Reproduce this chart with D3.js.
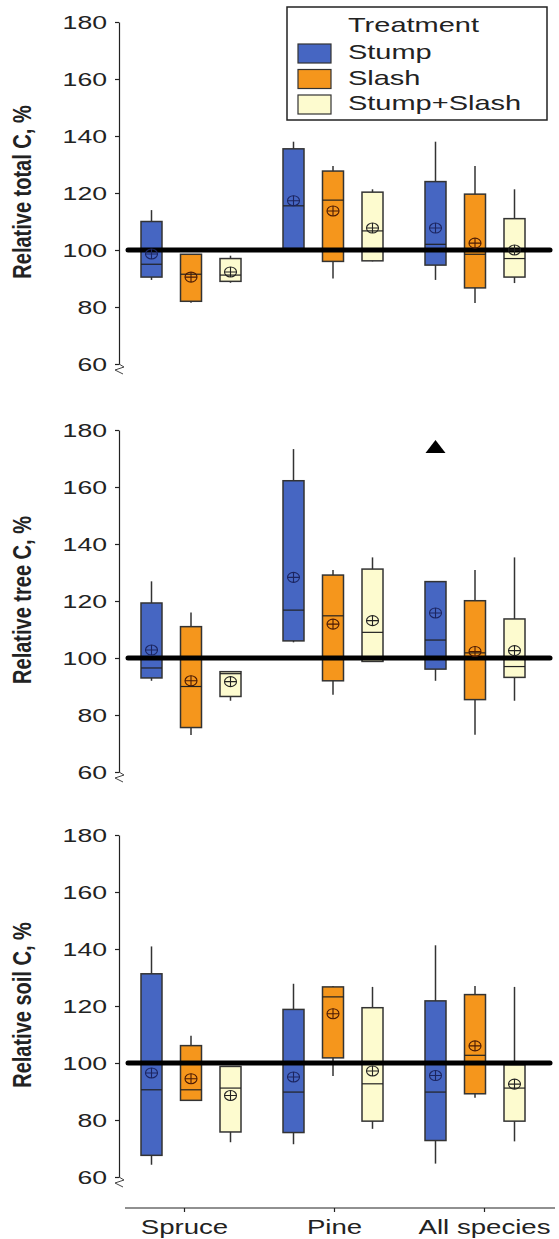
<!DOCTYPE html>
<html>
<head>
<meta charset="utf-8">
<script src="https://cdn.jsdelivr.net/npm/d3@7"></script>
<style>
  body { margin: 0; background: #fff; }
  text { font-family: "Liberation Sans", Arial, sans-serif; fill: #222; }
</style>
</head>
<body>
<div id="chart"></div>
<script>
(function() {
  var width = 559,
      height = 1239;

  // categories
  var groups = ["Spruce", "Pine", "All species"];
  var treatments = ["Stump", "Slash", "Stump+Slash"];
  var yTicks = [60, 80, 100, 120, 140, 160, 180];

  // one row per box, groups x treatments:
  // [whisker low, Q1, median, Q3, whisker high, mean]
  var totalC = [
    [89.5, 90.5, 95, 110, 114, 98.6],
    [81.5, 82, 91.5, 98.5, 98.5, 90.5],
    [88.5, 89, 91.2, 97, 98, 92.3],
    [100.5, 100.5, 115.5, 135.5, 138, 117.3],
    [90, 96, 117.5, 127.7, 129.5, 113.7],
    [96, 96.2, 106.7, 120.3, 121.3, 107.7],
    [89.5, 94.7, 102, 124, 138, 107.7],
    [81.4, 86.7, 98.5, 119.6, 129.5, 102.4],
    [88.4, 90.5, 97, 111, 121.3, 100]
  ];
  var treeC = [
    [92, 93, 96.5, 119.3, 126.9, 102.8],
    [73, 75.6, 90, 111, 116, 92],
    [85, 86.5, 94.5, 95.2, 95.2, 91.7],
    [105.5, 106, 116.8, 162.2, 173.3, 128.3],
    [87.1, 92, 114.8, 129.1, 130.9, 111.9],
    [98.8, 98.8, 109, 131.2, 135.3, 113.1],
    [92, 96.1, 106.3, 126.8, 126.8, 115.8],
    [73.1, 85.4, 101.8, 120.1, 130.9, 102.3],
    [85, 93.2, 97, 113.7, 135.3, 102.6]
  ];
  var soilC = [
    [64.3, 67.6, 90.6, 131.3, 140.9, 96.5],
    [86.9, 86.9, 90.6, 106.1, 109.6, 94.5],
    [72.2, 75.8, 91.2, 98.8, 98.8, 88.6],
    [71.5, 75.6, 89.8, 118.8, 127.8, 95.1],
    [95.4, 101.8, 123.2, 126.7, 127, 117.3],
    [76.9, 79.6, 92.7, 119.4, 126.7, 97.2],
    [64.7, 72.8, 89.8, 121.8, 141.3, 95.6],
    [87.8, 89.2, 102.7, 124, 127, 106],
    [72.5, 79.6, 91.2, 99.4, 126.7, 92.6]
  ];
  // extreme values drawn as triangles: [group, treatment, value]
  var treeOutliers = [["All species", "Stump", 174]];

  var fills = ["#4666c2", "#f5961c", "#fdfbcf"];
  var meanColors = ["#1c2560", "#4a1a05", "#222"];
  var stretch = 1.38; // glyphs in the picture are wider than plain Arial

  var panels = [
    {label: "Relative total C, %", data: totalC, outliers: [], top: 22},
    {label: "Relative tree C, %", data: treeC, outliers: treeOutliers, top: 430},
    {label: "Relative soil C, %", data: soilC, outliers: [], top: 835}
  ];
  var panelHeight = 342;

  var svg = d3.select("#chart")
      .append("svg")
      .attr("width", width)
      .attr("height", height);

  // x: groups, then treatments inside each group
  var x = d3.scaleBand().domain(groups).range([120, 546]);
  var xInner = d3.scalePoint().domain(treatments).range([31.5, 110.5]);
  var boxW = 21;

  var drawPanel = function(p) {
    var y = d3.scaleLinear().domain([60, 180]).range([p.top + panelHeight, p.top]);
    var g = svg.append("g");

    // y axis
    var ax = g.append("g")
      .attr("transform", "translate(119,0)")
      .call(d3.axisLeft(y).tickValues(yTicks).tickSize(4).tickSizeOuter(0));
    ax.select(".domain").attr("stroke", "#222").attr("stroke-width", 1.2);
    ax.selectAll(".tick line").attr("stroke", "#222").attr("stroke-width", 1.2);
    ax.selectAll(".tick text")
      .attr("x", null)
      .attr("transform", "translate(-12,0) scale(" + (stretch + 0.02) + ",1)")
      .style("font-size", "19px")
      .style("font-family", "'Liberation Sans', Arial, sans-serif")
      .attr("fill", "#222");

    // axis break mark
    var yb = y(60);
    g.append("path")
      .attr("d", "M119," + yb + " l5,3 l-9,3 l8,4")
      .attr("fill", "none")
      .attr("stroke", "#444")
      .attr("stroke-width", 1);

    // y label
    g.append("text")
      .attr("transform", "translate(31," + (p.top + 170) + ") scale(1.28,1) rotate(-90)")
      .attr("text-anchor", "middle")
      .style("font-size", "20px")
      .style("font-weight", "bold")
      .attr("fill", "#111")
      .text(p.label);

    // boxes
    var rows = [];
    groups.forEach(function(gr, gi) {
      treatments.forEach(function(tr, ti) {
        var r = p.data[gi * treatments.length + ti];
        rows.push({group: gr, t: tr, ti: ti, lo: r[0], q1: r[1], med: r[2], q3: r[3], hi: r[4], mean: r[5]});
      });
    });
    var cx = function(d) { return x(d.group) + xInner(d.t); };

    var box = g.selectAll(".box").data(rows).enter().append("g").attr("class", "box");

    box.append("line")
      .attr("x1", cx).attr("x2", cx)
      .attr("y1", function(d) { return y(d.hi); })
      .attr("y2", function(d) { return y(d.lo); })
      .attr("stroke", "#333").attr("stroke-width", 1.5);

    box.append("rect")
      .attr("x", function(d) { return cx(d) - boxW / 2; })
      .attr("y", function(d) { return y(d.q3); })
      .attr("width", boxW)
      .attr("height", function(d) { return y(d.q1) - y(d.q3); })
      .attr("fill", function(d) { return fills[d.ti]; })
      .attr("stroke", "#333").attr("stroke-width", 1.5);

    box.append("line")
      .attr("x1", function(d) { return cx(d) - boxW / 2; })
      .attr("x2", function(d) { return cx(d) + boxW / 2; })
      .attr("y1", function(d) { return y(d.med); })
      .attr("y2", function(d) { return y(d.med); })
      .attr("stroke", "#222").attr("stroke-width", 1.2);

    // reference line at 100 (drawn over the boxes, under the means)
    g.append("line")
      .attr("x1", 128).attr("x2", 550)
      .attr("y1", y(100)).attr("y2", y(100))
      .attr("stroke", "#000").attr("stroke-width", 5)
      .attr("stroke-linecap", "round");

    // mean symbol: circle with a cross
    var m = g.selectAll(".mean").data(rows).enter().append("g")
      .attr("class", "mean")
      .attr("transform", function(d) { return "translate(" + cx(d) + "," + y(d.mean) + ")"; })
      .attr("stroke", function(d) { return meanColors[d.ti]; })
      .attr("stroke-width", 1.1)
      .attr("fill", "none");
    m.append("ellipse").attr("rx", 6).attr("ry", 5);
    m.append("path").attr("d", "M-6,0H6M0,-5V5");

    // outliers
    g.selectAll(".outlier").data(p.outliers).enter().append("path")
      .attr("class", "outlier")
      .attr("d", function(d) {
        var px = x(d[0]) + xInner(d[1]), py = y(d[2]);
        return "M" + (px - 10) + "," + (py + 6) + "L" + px + "," + (py - 7) + "L" + (px + 10) + "," + (py + 6) + "Z";
      })
      .attr("fill", "#000");
  };

  panels.forEach(drawPanel);

  // x axis at the bottom
  var xLab = d3.scalePoint().domain(groups).range([184, 484]);
  svg.append("line")
    .attr("x1", 125).attr("x2", 555)
    .attr("y1", 1208).attr("y2", 1208)
    .attr("stroke", "#222").attr("stroke-width", 1.2);
  var xa = svg.append("g")
    .attr("transform", "translate(0,1208)")
    .call(d3.axisBottom(xLab).tickSize(4).tickSizeOuter(0));
  xa.select(".domain").remove();
  xa.selectAll(".tick line").attr("stroke", "#222").attr("stroke-width", 1.2);
  xa.selectAll(".tick text")
    .attr("y", null).attr("dy", null)
    .attr("transform", "translate(0,26) scale(" + stretch + ",1)")
    .style("font-size", "20px")
    .style("font-family", "'Liberation Sans', Arial, sans-serif")
    .attr("fill", "#222");

  // legend
  var legend = svg.append("g");
  legend.append("rect")
    .attr("x", 287).attr("y", 7).attr("width", 260).attr("height", 113)
    .attr("fill", "#fff").attr("stroke", "#222").attr("stroke-width", 1.5);
  legend.append("text")
    .attr("transform", "translate(348,32) scale(" + stretch + ",1)")
    .style("font-size", "21px")
    .text("Treatment");
  var ly = d3.scalePoint().domain(treatments).range([44, 95]);
  var item = legend.selectAll(".item").data(treatments).enter().append("g").attr("class", "item");
  item.append("rect")
    .attr("x", 298).attr("y", function(d) { return ly(d); })
    .attr("width", 33).attr("height", 19)
    .attr("fill", function(d, i) { return fills[i]; })
    .attr("stroke", "#333").attr("stroke-width", 1.2);
  item.append("text")
    .attr("transform", function(d) { return "translate(348," + (ly(d) + 15) + ") scale(" + stretch + ",1)"; })
    .style("font-size", "21px")
    .text(function(d) { return d; });
})();
</script>
</body>
</html>
